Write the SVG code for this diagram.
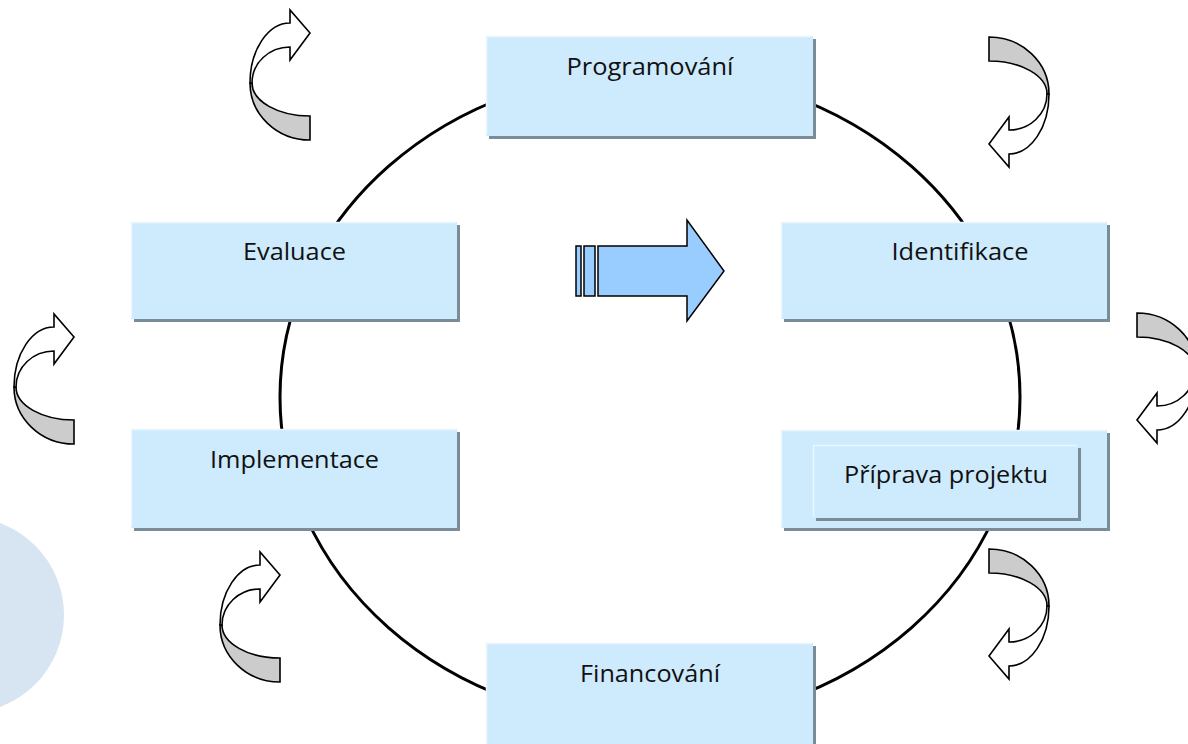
<svg xmlns="http://www.w3.org/2000/svg" xmlns:xlink="http://www.w3.org/1999/xlink" width="1188" height="744" viewBox="0 0 1188 744">
<style>
.shadow{fill:#7b8c99}
.box{fill:#cdebfd}
.hl{fill:none;stroke:#eaf7ff;stroke-width:1.5}
.lbl{font-family:"Open Sans","Liberation Sans",sans-serif;font-size:23px;fill:#111;text-anchor:middle}
.cg{fill:#cccccc;stroke:#000;stroke-width:1.6;stroke-linejoin:miter}
.cw{fill:#ffffff;stroke:#000;stroke-width:1.6;stroke-linejoin:miter}
.big{fill:#99ccff;stroke:#000;stroke-width:1.5}
</style>
<defs>
<g id="curvA">
<path class="cg" d="M60,130 L60,106 A58,33 0 0 1 2,73 L0,73 A60,57 0 0 0 60,130 Z"/>
<path class="cw" d="M0,73 A40,60 0 0 1 40,13 L40,0 L60,23 L40,50 L40,37 A38,36 0 0 0 2,73 Z"/>
</g>
</defs>
<rect width="1188" height="744" fill="#ffffff"/>
<circle cx="-34" cy="615" r="98" fill="#d6e5f1"/>
<g id="connectors">
<ellipse cx="650" cy="397" rx="370" ry="326" fill="none" stroke="#000" stroke-width="3"/>
</g>
<g id="center-arrow">
<rect class="big" x="576" y="246" width="5" height="50"/>
<rect class="big" x="584" y="246" width="11" height="50"/>
<path class="big" d="M598,246 L687,246 L687,220 L724,271 L687,321 L687,296 L598,296 Z"/>
</g>
<g id="cycle-arrows">
<use xlink:href="#curvA" transform="translate(250,10)"/>
<use xlink:href="#curvA" transform="translate(14,314)"/>
<use xlink:href="#curvA" transform="translate(220,552)"/>
<use xlink:href="#curvA" transform="translate(1049,167) rotate(180)"/>
<use xlink:href="#curvA" transform="translate(1197,443) rotate(180)"/>
<use xlink:href="#curvA" transform="translate(1049,679) rotate(180)"/>
</g>
<g id="programovani">
<rect class="shadow" x="489" y="39" width="327" height="100"/>
<rect class="box" x="486" y="36" width="327" height="100"/>
<path class="hl" d="M486.5,135 V36.5 H812"/>
<text class="lbl" x="650" y="75" textLength="167" lengthAdjust="spacingAndGlyphs">Programování</text>
</g>
<g id="evaluace">
<rect class="shadow" x="134" y="225" width="326" height="97"/>
<rect class="box" x="131" y="222" width="326" height="97"/>
<path class="hl" d="M131.5,318 V222.5 H456"/>
<text class="lbl" x="294.5" y="260" textLength="103" lengthAdjust="spacingAndGlyphs">Evaluace</text>
</g>
<g id="identifikace">
<rect class="shadow" x="784" y="225" width="326" height="97"/>
<rect class="box" x="781" y="222" width="326" height="97"/>
<path class="hl" d="M781.5,318 V222.5 H1106"/>
<text class="lbl" x="960" y="260" textLength="137" lengthAdjust="spacingAndGlyphs">Identifikace</text>
</g>
<g id="implementace">
<rect class="shadow" x="134" y="432" width="326" height="99"/>
<rect class="box" x="131" y="429" width="326" height="99"/>
<path class="hl" d="M131.5,527 V429.5 H456"/>
<text class="lbl" x="294.5" y="468" textLength="169" lengthAdjust="spacingAndGlyphs">Implementace</text>
</g>
<g id="priprava">
<rect class="shadow" x="784" y="433" width="326" height="98"/>
<rect class="box" x="781" y="430" width="326" height="98"/>
<path class="hl" d="M781.5,527 V430.5 H1106"/>
<rect class="shadow" x="816" y="448" width="265" height="73"/>
<rect class="box" x="813" y="445" width="265" height="73"/>
<path class="hl" d="M813.5,517 V445.5 H1077"/>
<text class="lbl" x="946" y="483" textLength="204" lengthAdjust="spacingAndGlyphs">Příprava projektu</text>
</g>
<g id="financovani">
<rect class="shadow" x="489" y="646" width="327" height="110"/>
<rect class="box" x="486" y="643" width="327" height="110"/>
<path class="hl" d="M486.5,752 V643.5 H812"/>
<text class="lbl" x="650" y="682" textLength="140" lengthAdjust="spacingAndGlyphs">Financování</text>
</g>
</svg>
